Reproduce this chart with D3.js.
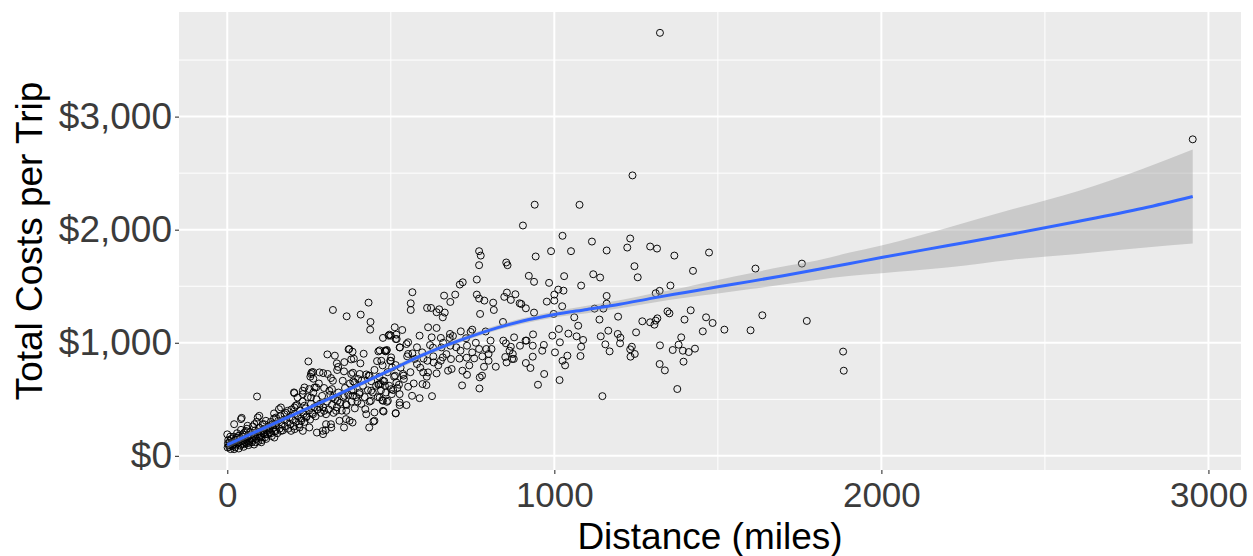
<!DOCTYPE html>
<html>
<head>
<meta charset="utf-8">
<script src="https://cdn.jsdelivr.net/npm/d3@7"></script>
<style>
  body { margin: 0; background: #fff; }
  text { font-family: "Liberation Sans", Arial, sans-serif; }
</style>
</head>
<body>
<div id="chart"></div>
<script>
// trips: [distance (miles), total cost ($)]
const shortTrips = [
  [248,835],[262,741],[254,700],[263,682],[293,732],[91,525],[205,555],[236,605],[267,605],[258,738],
  [204,561],[158,413],[184,398],[209,443],[143,375],[98,354],[44,336],[0,190],[296,398],[293,192],
  [274,206],[206,236],[282,738],[256,724],[231,576],[251,590],[272,605],[282,428],[262,368],[241,339],
  [292,221],[251,251],[231,221],[226,310],[42,325],[93,339],[83,280],[113,280],[21,280],[62,266],
  [139,266],[149,339],[164,428],[175,368],[205,428],[231,546],[256,516],[215,516],[236,443],[144,162],
  [164,221],[195,221],[221,251],[124,192],[103,162],[62,133],[32,162],[11,103],[1,74],[21,59],[52,103],
  [5,95],[8,130],[10,60],[12,150],[15,85],[18,115],[20,170],[24,75],[25,140],[28,100],[30,200],[33,120],
  [35,65],[38,150],[40,90],[42,230],[45,130],[48,170],[50,80],[52,205],[55,145],[58,110],[60,240],
  [63,175],[65,95],[68,130],[70,210],[72,155],[75,120],[78,260],[80,185],[82,100],[85,225],[88,150],
  [90,300],[92,190],[95,130],[98,250],[100,175],[103,215],[106,140],[108,280],[110,200],[113,240],
  [116,165],[118,310],[120,225],[123,190],[126,260],[130,210],[133,300],[136,175],[140,245],[143,330],
  [146,215],[150,270],[153,200],[156,310],[160,240],[163,350],[166,280],[170,225],[173,320],[176,260],
  [180,380],[183,300],[186,240],[190,340],[193,280],[196,410],[200,320],[203,260],[206,370],[210,300],
  [213,450],[216,350],[220,280],[223,400],[226,330],[230,480],[233,370],[236,300],[240,420],[243,350],
  [246,520],[250,400],[253,320],[256,460],[260,380],[263,560],[266,430],[270,350],[273,500],[276,410],
  [280,640],[283,460],[286,380],[290,530],[293,430],[296,600],
  [2,110],[3,140],[6,80],[9,170],[14,120],[17,95],[22,130],[27,160],[31,110],[36,180],[44,105],[47,190],
  [54,120],[57,220],[62,160],[67,115],[73,190],[77,140],[84,170],[87,120],[94,210],[97,160],[104,120],
  [109,230],[114,190],[119,150],[128,240],[134,200],[138,280],[148,230]
];

const midTrips = [
  [940,2221],[904,2037],[990,1810],[943,1763],[770,1810],[775,1771],[770,1686],[853,1710],[857,1686],
  [922,1592],[938,1539],[984,1530],[1000,1426],[977,1364],[1000,1373],[998,1255],[994,1063],[969,724],
  [963,930],[968,981],[950,629],[934,877],[927,777],[913,821],[934,974],[915,1019],[895,974],[935,1074],
  [912,1019],[877,1048],[843,1184],[844,1019],[852,995],[867,965],[863,930],[873,901],[871,857],[850,874],
  [854,826],[876,857],[821,788],[799,841],[799,901],[808,945],[792,945],[805,1019],[785,788],[772,694],
  [779,709],[771,596],[813,1355],[815,1290],[763,1559],[763,1426],[770,1391],[786,1373],[773,1255],
  [855,1444],[847,1406],[867,1379],[881,1429],[894,1349],[899,1343],[913,1305],[938,1267],[749,1116],
  [744,1096],[714,1101],[681,1078],[680,1043],[653,1043],[625,1048],[640,1131],[614,1137],[588,1063],
  [629,957],[655,959],[682,974],[713,930],[733,974],[749,915],[732,868],[755,862],[770,945],[684,856],
  [659,871],[653,841],[631,826],[612,841],[596,915],[566,906],[573,857],[580,812],[599,738],[614,738],
  [640,729],[675,753],[686,768],[719,753],[733,717],[718,623],[553,1004],[528,959],[515,1033],[512,1137],
  [535,1113],[500,1063],[476,1043],[488,936],[482,930],[471,841],[501,871],[504,782],[566,1447],[561,1349],
  [561,1290],[611,1308],[623,1308],[640,1270],[648,1296],[663,1417],[682,1361],[697,1426],[665,1267],
  [659,1225],[711,1515],[720,1535],[513,709],[539,709],[525,629],[553,611],[565,531],[588,510],[597,635],
  [609,626],[626,528],[515,378],[478,392],[527,449],[548,449],[488,478],[474,493],[503,546],[507,582],
  [482,620],[469,635],[515,803],[323,1290],[365,1234],[408,1249],[432,1355],[438,1184],[437,1116],
  [306,897],[329,886],[373,945],[383,921],[417,903],[462,924],[486,930],[493,1063],[458,838],[407,818],
  [379,853],[358,829],[339,786],[336,759],[307,724],[317,688],[384,735],[405,724],[432,709],[411,664],
  [385,658],[462,629],[476,664],[320,590],[498,841],[335,818],[357,747],[450,310],[439,487],[398,481],
  [380,576],[404,546],[422,413],[363,457],[337,487],[357,251],[383,295],[363,325],[434,251],[450,384],
  [317,280],[301,227],[371,942],[387,859],[466,933],[484,924],[496,1072],[517,1072],[527,959],[548,989],
  [518,1033],[553,901],[323,664],[353,664],[379,724],[389,649],[435,709],[464,635],[501,590],[517,649],
  [537,724],[527,546],[466,516],[476,487],[491,487],[440,576],[384,531],[359,531],[312,576],[323,516],
  [425,368],[447,304],[476,398],[515,375],[527,472],[302,368],[333,398],[364,398],[374,310],[343,310],
  [302,280],[318,251],
  [305,480],[310,410],[315,540],[320,450],[325,380],[330,500],[335,430],[340,560],[345,470],[350,400],
  [355,520],[360,600],[365,450],[370,540],[375,640],[380,480],[385,580],[390,420],[395,520],[400,680],
  [405,560],[410,460],[415,620],[420,520],[425,720],[430,580],[435,480],[440,660],[445,560],[450,760],
  [455,620],[460,520],[465,700],[470,580],[475,800],[480,660],[485,560],[490,740],[495,620],[500,840],
  [510,700],[520,600],[530,780],[540,680],[550,880],[560,740],[570,640],[580,960],[590,780],[600,860],
  [610,700],[620,980],[630,880],[645,800],[660,1000],[670,900],[690,1060],[700,960],[710,860],[730,1040],
  [740,800],[760,1000],[780,880],[790,1100]
];

const longTrips = [
  [1323,3741],[2952,2799],[1239,2480],[1077,2220],[1115,1895],[1232,1922],[1223,1842],[1160,1816],
  [1293,1851],[1314,1833],[1367,1771],[1473,1798],[1245,1677],[1255,1579],[1119,1606],[1140,1577],
  [1424,1636],[1615,1656],[1757,1700],[1082,1506],[1355,1506],[1160,1414],[1310,1438],[1322,1459],
  [1123,1302],[1150,1302],[1160,1346],[1138,1205],[1195,1231],[1346,1278],[1352,1260],[1417,1287],
  [1269,1190],[1293,1181],[1310,1196],[1315,1216],[1306,1160],[1398,1205],[1464,1225],[1484,1175],
  [1520,1116],[1600,1110],[1636,1243],[1772,1193],[1088,1025],[1082,965],[1080,883],[1142,1057],
  [1165,1107],[1194,1078],[1202,1045],[1201,995],[1156,986],[1169,924],[1250,1092],[1237,965],
  [1232,942],[1246,901],[1233,877],[1323,977],[1388,1048],[1380,983],[1362,936],[1393,930],[1411,918],
  [1430,948],[1454,1101],[1395,833],[1322,812],[1338,756],[1376,591],[1147,528],[1883,922],[1885,753],
  [1025,1946],[1051,1810],[1030,1589],[1012,1470],[1028,1461],[1024,1323],[1061,1225],[1073,1151],
  [1014,1122],[1017,1004],[1043,1081],[1068,1057],[1025,841],[1040,886],[1033,800],[1016,670],[1002,915]
];

// smoother (fit and 95% band)
const smoothX   = [0, 100, 200, 300, 400, 500, 600, 700, 800, 900, 1000, 1100, 1200, 1300, 1400, 1500,
                   1600, 1700, 1800, 1900, 2000, 2200, 2400, 2600, 2800, 2952];
const smoothFit = [97, 230, 360, 490, 625, 760, 895, 1010, 1110, 1190, 1250, 1295, 1340, 1395, 1445, 1495,
                   1543, 1593, 1645, 1699, 1754, 1858, 1962, 2072, 2190, 2294];
const smoothLo  = [65, 205, 340, 470, 605, 740, 873, 988, 1088, 1166, 1224, 1262, 1305, 1355, 1398, 1435,
                   1475, 1515, 1555, 1590, 1615, 1665, 1735, 1785, 1840, 1878];
const smoothHi  = [130, 255, 380, 510, 645, 780, 917, 1032, 1132, 1214, 1276, 1328, 1375, 1435, 1492, 1555,
                   1615, 1675, 1725, 1795, 1860, 2015, 2180, 2340, 2540, 2710];

const xTicks = [0, 1000, 2000, 3000];
const xMinor = [500, 1500, 2500];
const yTicks = [0, 1000, 2000, 3000];
const yMinor = [500, 1500, 2500, 3500];

const width = 1253, height = 556;
const margin = {top: 12, right: 12, bottom: 86, left: 179};

const svg = d3.select('#chart')
              .append('svg')
              .attr('width', width)
              .attr('height', height);

const trips = shortTrips.concat(midTrips, longTrips);

// ggplot style 5% expansion
const xExt = d3.extent(trips, d => d[0]);
const yExt = d3.extent(trips, d => d[1]);
const xPad = (xExt[1] - xExt[0]) * 0.05;
const yPad = (yExt[1] - yExt[0]) * 0.05;

const x = d3.scaleLinear()
            .domain([xExt[0] - xPad, xExt[1] + xPad])
            .range([margin.left, width - margin.right]);

const y = d3.scaleLinear()
            .domain([yExt[0] - yPad, yExt[1] + yPad])
            .range([height - margin.bottom, margin.top]);

// panel
svg.append('rect')
  .attr('x', margin.left)
  .attr('y', margin.top)
  .attr('width', width - margin.left - margin.right)
  .attr('height', height - margin.top - margin.bottom)
  .attr('fill', '#ebebeb');

const grid = svg.append('g').attr('stroke', '#fff');

grid.selectAll('.xminor')
  .data(xMinor).enter().append('line')
  .attr('x1', d => x(d)).attr('x2', d => x(d))
  .attr('y1', margin.top).attr('y2', height - margin.bottom)
  .attr('stroke-width', 1);

grid.selectAll('.yminor')
  .data(yMinor).enter().append('line')
  .attr('y1', d => y(d)).attr('y2', d => y(d))
  .attr('x1', margin.left).attr('x2', width - margin.right)
  .attr('stroke-width', 1);

grid.selectAll('.xmajor')
  .data(xTicks).enter().append('line')
  .attr('x1', d => x(d)).attr('x2', d => x(d))
  .attr('y1', margin.top).attr('y2', height - margin.bottom)
  .attr('stroke-width', 2);

grid.selectAll('.ymajor')
  .data(yTicks).enter().append('line')
  .attr('y1', d => y(d)).attr('y2', d => y(d))
  .attr('x1', margin.left).attr('x2', width - margin.right)
  .attr('stroke-width', 2);

// points
svg.append('g')
  .selectAll('circle')
  .data(trips)
  .enter()
  .append('circle')
  .attr('cx', d => x(d[0]))
  .attr('cy', d => y(d[1]))
  .attr('r', 3.5)
  .attr('fill', 'none')
  .attr('stroke', '#000')
  .attr('stroke-width', 0.95);

// smoother
const band = d3.area()
               .x((d, i) => x(smoothX[i]))
               .y0((d, i) => y(smoothLo[i]))
               .y1((d, i) => y(smoothHi[i]))
               .curve(d3.curveMonotoneX);

svg.append('path')
  .datum(smoothX)
  .attr('d', band)
  .attr('fill', '#999')
  .attr('fill-opacity', 0.4);

const fitLine = d3.line()
                  .x((d, i) => x(smoothX[i]))
                  .y((d, i) => y(smoothFit[i]))
                  .curve(d3.curveMonotoneX);

svg.append('path')
  .datum(smoothX)
  .attr('d', fitLine)
  .attr('fill', 'none')
  .attr('stroke', '#3366ff')
  .attr('stroke-width', 3);

// axes
const xAxis = d3.axisBottom(x)
                .tickValues(xTicks)
                .tickSize(4)
                .tickPadding(8)
                .tickFormat(d3.format('d'));

const yAxis = d3.axisLeft(y)
                .tickValues(yTicks)
                .tickSize(4)
                .tickPadding(3)
                .tickFormat(d => '$' + d3.format(',')(d));

const gx = svg.append('g')
  .attr('transform', `translate(0,${height - margin.bottom})`)
  .call(xAxis);

const gy = svg.append('g')
  .attr('transform', `translate(${margin.left},0)`)
  .call(yAxis);

[gx, gy].forEach(g => {
  g.select('.domain').remove();
  g.selectAll('.tick line').attr('stroke', '#333').attr('stroke-width', 1.1);
  g.selectAll('.tick text')
    .attr('fill', '#3b3b3b')
    .style('font-family', '"Liberation Sans", Arial, sans-serif');
});

gx.selectAll('.tick text').style('font-size', '35px');
gy.selectAll('.tick text').style('font-size', '37px');

// titles
svg.append('text')
  .attr('x', (margin.left + width - margin.right) / 2)
  .attr('y', 549)
  .attr('text-anchor', 'middle')
  .style('font-size', '37px')
  .attr('fill', '#000')
  .text('Distance (miles)');

svg.append('text')
  .attr('transform', `translate(42,${(margin.top + height - margin.bottom) / 2}) rotate(-90)`)
  .attr('text-anchor', 'middle')
  .style('font-size', '37px')
  .attr('fill', '#000')
  .text('Total Costs per Trip');
</script>
</body>
</html>
